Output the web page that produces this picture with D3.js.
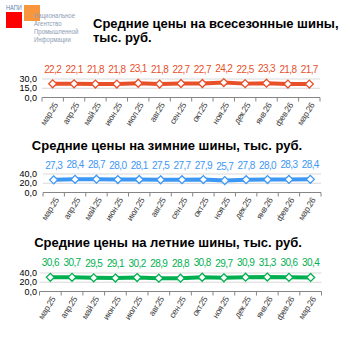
<!DOCTYPE html>
<html>
<head>
<meta charset="utf-8">
<script src="https://cdn.jsdelivr.net/npm/d3@7"></script>
<style>
	body{ margin:0; background:#fff; }
	svg{ display:block; }
</style>
</head>
<body>
<div id="chart"></div>
<script>
;(function(d3){
	/*********** data ***********/
	var months = ["мар.25", "апр.25", "май.25", "июн.25", "июл.25", "авг.25", "сен.25",
		"окт.25", "ноя.25", "дек.25", "янв.26", "фев.26", "мар.26"];
	var allSeason = [22.2, 22.1, 21.8, 21.8, 23.1, 21.8, 22.7, 22.7, 24.2, 22.5, 23.3, 21.8, 21.7];
	var winter = [27.3, 28.4, 28.7, 28.0, 28.1, 27.5, 27.7, 27.9, 25.7, 27.8, 28.0, 28.3, 28.4];
	var summer = [30.6, 30.7, 29.5, 29.1, 30.2, 28.9, 28.8, 30.8, 29.7, 30.9, 31.3, 30.6, 30.4];
	var ticksAll = [0, 15, 30];
	var ticksWinter = [0, 20, 40];
	var ticksSummer = [0, 20, 40];
	var logoLines = ["Национальное", "Агентство", "Промышленной", "Информации"];

	var W = 353, H = 353;
	var sans = "Liberation Sans, Arial, sans-serif";
	var fmt = function(v){ return d3.format(".1f")(v).replace(".", ","); };

	var svg = d3.select("#chart").append("svg").attr("width", W).attr("height", H);

	/*********** logo ***********/
	var logo = svg.append("g").attr("class", "logo");
	logo.append("rect").attr("x", 6).attr("y", 12).attr("width", 16).attr("height", 16).attr("fill", "#ff0000");
	logo.append("rect").attr("x", 24).attr("y", 5).attr("width", 16).attr("height", 16).attr("fill", "#f7963c");
	logo.append("text").attr("transform", "translate(6,10) scale(0.8,1)").attr("font-family", sans)
		.attr("font-size", 7).attr("fill", "#5b7fae").text("НАПИ");
	logo.selectAll("text.line").data(logoLines).enter().append("text").attr("class", "line")
		.attr("transform", function(d, i){ return "translate(34," + (18 + i * 8) + ") scale(0.75,1)"; })
		.attr("font-family", sans).attr("font-size", 8).attr("fill", "#8c9cb4")
		.text(function(d){ return d; });

	/*********** titles ***********/
	function title(lines, x, y, anchor){
		lines.forEach(function(l, i){
			svg.append("text").attr("font-family", sans).attr("font-size", 13)
				.attr("font-weight", "bold").attr("fill", "#000").attr("text-anchor", anchor)
				.attr("x", x).attr("y", y + i * 14).text(l);
		});
	}
	title(["Средние цены на всесезонные шины,", "тыс. руб."], 93, 28, "start");
	title(["Средние цены на зимние шины, тыс. руб."], 167, 150, "middle");
	title(["Средние цены на летние шины, тыс. руб."], 168, 247, "middle");

	/*********** line panel ***********/
	function panel(values, ticks, color, opt){
		var g = svg.append("g");
		var x = d3.scaleBand().domain(months).range([opt.x0, opt.x1]);
		var y = d3.scaleLinear().domain([ticks[0], ticks[ticks.length - 1]]).range([opt.y0, opt.yTop]);
		var cx = function(d, i){ return x(months[i]) + x.bandwidth() / 2; };

		//grid
		g.selectAll("line.grid").data(ticks.slice(1)).enter().append("line").attr("class", "grid")
			.attr("x1", opt.x0).attr("x2", opt.x1)
			.attr("y1", function(d){ return y(d); }).attr("y2", function(d){ return y(d); })
			.attr("stroke", "#d9d9d9").attr("stroke-width", 1);

		//y labels
		g.selectAll("text.ytick").data(ticks).enter().append("text").attr("class", "ytick")
			.attr("x", 37).attr("y", function(d){ return y(d); }).attr("dy", "0.35em")
			.attr("text-anchor", "end").attr("font-family", sans)
			.attr("font-size", 9).attr("fill", "#000").text(fmt);

		//x axis
		var ax = g.append("g").attr("transform", "translate(0," + opt.y0 + ")");
		ax.append("line").attr("x1", opt.x0).attr("x2", opt.x1).attr("stroke", "#868686");
		var bounds = months.map(function(m){ return x(m); }).concat([opt.x1]);
		ax.selectAll("line.tk").data(bounds).enter().append("line").attr("class", "tk")
			.attr("x1", function(d){ return d; }).attr("x2", function(d){ return d; })
			.attr("y1", 0).attr("y2", 4).attr("stroke", "#868686");
		ax.selectAll("text").data(months).enter().append("text")
			.attr("transform", function(d){ return "translate(" + (x(d) + x.bandwidth() / 2 + 3) + ",6) rotate(-58)"; })
			.attr("text-anchor", "end").attr("dy", "0.35em")
			.attr("font-family", sans).attr("letter-spacing", -0.4)
			.attr("font-size", 8.5).attr("fill", "#404040").text(function(d){ return d; });

		//line
		var line = d3.line().x(cx).y(function(d){ return y(d); });
		g.append("path").datum(values).attr("d", line).attr("fill", "none")
			.attr("stroke", color).attr("stroke-width", 4).attr("stroke-linejoin", "round");
		var sym = d3.symbol().type(d3.symbolDiamond2).size(40);
		g.selectAll("path.mk").data(values).enter().append("path").attr("class", "mk")
			.attr("d", sym)
			.attr("transform", function(d, i){ return "translate(" + cx(d, i) + "," + y(d) + ")"; })
			.attr("fill", "#fff").attr("stroke", color).attr("stroke-width", 1.3);

		//data labels
		g.selectAll("text.lbl").data(values).enter().append("text").attr("class", "lbl")
			.attr("x", cx).attr("y", function(d){ return y(d) - 11; })
			.attr("text-anchor", "middle").attr("font-family", sans).attr("letter-spacing", -0.6)
			.attr("font-size", 10).attr("fill", color).text(fmt);
	}

	panel(allSeason, ticksAll, "#e8502a", {x0: 42, x1: 320, y0: 97.5, yTop: 79});
	panel(winter, ticksWinter, "#3d97f5", {x0: 43, x1: 321, y0: 192.5, yTop: 174});
	panel(summer, ticksSummer, "#00b050", {x0: 39.5, x1: 321.5, y0: 291.5, yTop: 273});
})(d3);
</script>
</body>
</html>
